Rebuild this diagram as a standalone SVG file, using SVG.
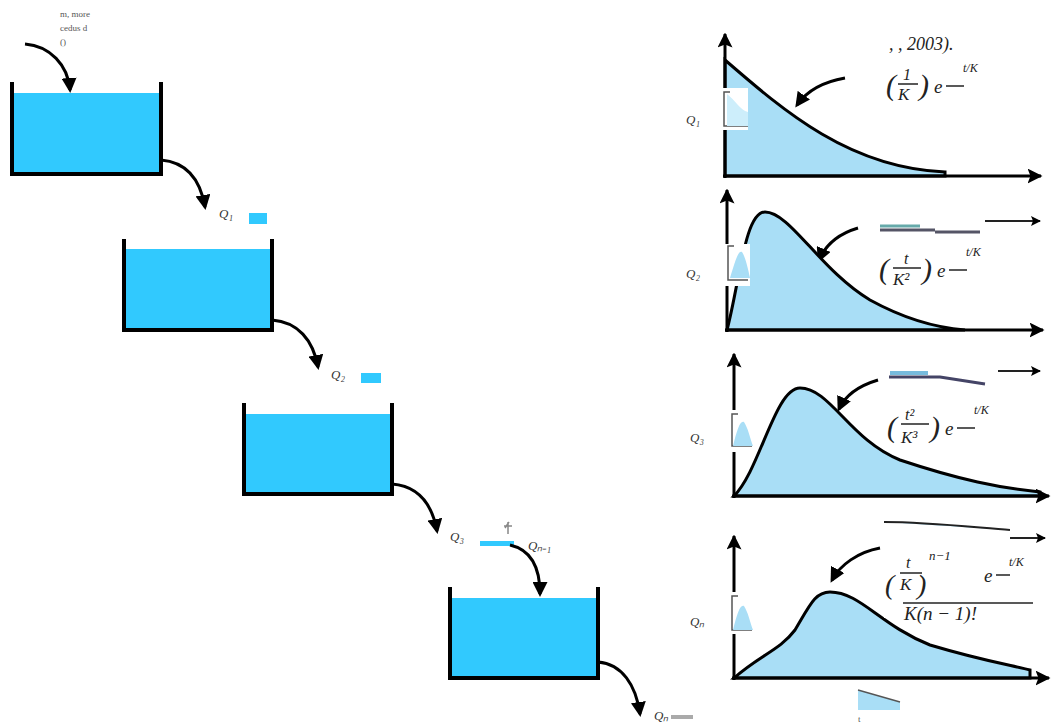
<svg xmlns="http://www.w3.org/2000/svg" width="1051" height="726" viewBox="0 0 1051 726">
<style>
.wall{stroke:#000;stroke-width:4;fill:none}
.water{fill:#31c9fe}
.flow{stroke:#000;stroke-width:3;fill:none}
.axis{stroke:#000;stroke-width:3;fill:none}
.curve{fill:#a9def6;stroke:#000;stroke-width:3}
.lbl{font-family:"Liberation Serif",serif;font-style:italic;font-size:13px;fill:#333}
.math{font-family:"Liberation Serif",serif;font-style:italic;fill:#222}
.tiny{font-family:"Liberation Serif",serif;font-size:9px;fill:#555}
</style>
<defs>
<marker id="ah" viewBox="0 0 10 10" refX="8" refY="5" markerWidth="5" markerHeight="5" orient="auto-start-reverse"><path d="M0,0 L10,5 L0,10 Z" fill="#000"/></marker>
<marker id="ax" viewBox="0 0 10 10" refX="9" refY="5" markerWidth="5" markerHeight="5" orient="auto"><path d="M0,0 L10,5 L0,10 L2,5 Z" fill="#000"/></marker>
</defs>
<rect width="1051" height="726" fill="#fff"/>

<g id="note">
<text class="tiny" x="60" y="17">m, more</text>
<text class="tiny" x="60" y="31">cedus d</text>
<text class="tiny" x="60" y="45">()</text>
</g>

<g id="tank1">
<rect class="water" x="14" y="93" width="145" height="79"/>
<path class="wall" d="M12,82 V174 H161 V82"/>
</g>
<g id="tank2">
<rect class="water" x="126" y="249" width="144" height="79"/>
<path class="wall" d="M124,239 V330 H272 V239"/>
</g>
<g id="tank3">
<rect class="water" x="246" y="414" width="144" height="78"/>
<path class="wall" d="M244,403 V494 H392 V403"/>
</g>
<g id="tank4">
<rect class="water" x="452" y="598" width="144" height="78"/>
<path class="wall" d="M450,587 V678 H598 V587"/>
</g>

<g id="labels">
<text class="lbl" x="219" y="218">Q₁</text><rect x="249" y="213" width="18" height="11" fill="#31c9fe"/>
<text class="lbl" x="331" y="379">Q₂</text><rect x="361" y="373" width="20" height="10" fill="#31c9fe"/>
<text class="lbl" x="450" y="541">Q₃</text><rect x="480" y="541" width="34" height="5" fill="#31c9fe"/>
<path d="M505,528 l4,-6 M508,522 v12 M504,526 h8" stroke="#888" stroke-width="1.5" fill="none"/>
<text class="lbl" x="528" y="550">Qₙ₋₁</text>
<text class="lbl" x="654" y="720">Qₙ</text>
<path d="M671,717 h22" stroke="#aaa" stroke-width="4"/>
</g>

<g id="connectors">
<path class="flow" marker-end="url(#ah)" d="M25,44 C50,46 68,65 70,90"/>
<path class="flow" marker-end="url(#ah)" d="M161,160 C185,162 200,178 205,207"/>
<path class="flow" marker-end="url(#ah)" d="M272,320 C298,322 313,340 318,367"/>
<path class="flow" marker-end="url(#ah)" d="M392,484 C418,486 432,504 437,531"/>
<path class="flow" marker-end="url(#ah)" d="M510,545 C532,550 540,568 540,594"/>
<path class="flow" marker-end="url(#ah)" d="M598,662 C622,664 636,685 640,714"/>
<path class="flow" marker-end="url(#ah)" d="M845,78 C822,82 806,92 797,105"/>
<path class="flow" marker-end="url(#ah)" d="M858,228 C838,234 825,246 819,260"/>
<path class="flow" marker-end="url(#ah)" d="M878,380 C858,386 845,396 839,409"/>
<path class="flow" marker-end="url(#ah)" d="M880,548 C858,552 840,565 832,580"/>
</g>

<g id="plot1">
<path class="curve" d="M725,60 C785,112 850,168 945,172 L945,176 L725,176 Z"/>
<path class="axis" marker-end="url(#ax)" d="M725,178 V34"/>
<path class="axis" marker-end="url(#ax)" d="M723,176 H1041"/>
<rect x="684" y="88" width="64" height="42" fill="#fff"/>
<text class="lbl" x="686" y="124">Q₁</text>
<path d="M730,92 h-6 v34 h24" stroke="#555" stroke-width="1.5" fill="none"/>
<path d="M727,94 C735,100 740,110 748,112 V126 H727 Z" fill="#cdeefb"/>
<text class="math" x="889" y="50" font-size="18">, , 2003).</text>
<text class="math" x="886" y="95" font-size="30">(</text>
<text class="math" x="903" y="80" font-size="16">1</text>
<path d="M898,84 h20" stroke="#222" stroke-width="1.5"/>
<text class="math" x="898" y="100" font-size="17">K</text>
<text class="math" x="919" y="95" font-size="30">)</text>
<text class="math" x="934" y="93" font-size="19">e</text>
<path d="M946,86 h18" stroke="#222" stroke-width="1.5"/>
<text class="math" x="963" y="72" font-size="12">t/K</text>
</g>

<g id="plot2">
<path class="curve" d="M727,330 C740,280 745,212 765,212 C790,212 820,270 870,300 C910,322 940,328 965,330 Z"/>
<path class="axis" marker-end="url(#ax)" d="M727,332 V190"/>
<path class="axis" marker-end="url(#ax)" d="M725,330 H1043"/>
<rect x="684" y="244" width="66" height="42" fill="#fff"/>
<text class="lbl" x="686" y="278">Q₂</text>
<path d="M734,246 h-6 v34 h20" stroke="#555" stroke-width="1.5" fill="none"/>
<path d="M730,278 C735,262 738,250 742,252 C745,256 748,268 750,278 Z" fill="#a9def6"/>
<path d="M880,230 H935 M935,232 H980" stroke="#556" stroke-width="3"/>
<path d="M880,226 h40" stroke="#6aa" stroke-width="3"/>
<path d="M985,221 H1040" stroke="#222" stroke-width="2" marker-end="url(#ax)"/>
<text class="math" x="879" y="279" font-size="30">(</text>
<text class="math" x="904" y="264" font-size="16">t</text>
<path d="M893,268 h28" stroke="#222" stroke-width="1.5"/>
<text class="math" x="893" y="285" font-size="17">K²</text>
<text class="math" x="922" y="279" font-size="30">)</text>
<text class="math" x="937" y="277" font-size="19">e</text>
<path d="M949,270 h18" stroke="#222" stroke-width="1.5"/>
<text class="math" x="966" y="256" font-size="12">t/K</text>
</g>

<g id="plot3">
<path class="curve" d="M734,496 C760,470 775,388 800,388 C830,388 850,440 900,460 C960,480 1000,488 1040,492 L1040,496 Z"/>
<path class="axis" marker-end="url(#ax)" d="M734,498 V354"/>
<path class="axis" marker-end="url(#ax)" d="M732,496 H1049"/>
<rect x="688" y="410" width="66" height="42" fill="#fff"/>
<text class="lbl" x="690" y="442">Q₃</text>
<path d="M738,414 h-6 v32 h20" stroke="#555" stroke-width="1.5" fill="none"/>
<path d="M733,446 C737,430 740,420 744,422 C748,428 750,438 753,446 Z" fill="#a9def6"/>
<path d="M889,377 H940 L985,384" stroke="#446" stroke-width="3" fill="none"/>
<path d="M890,373 h38" stroke="#7bd" stroke-width="4"/>
<path d="M998,371 H1040" stroke="#222" stroke-width="2" marker-end="url(#ax)"/>
<text class="math" x="887" y="437" font-size="30">(</text>
<text class="math" x="905" y="420" font-size="16">t²</text>
<path d="M901,424 h28" stroke="#222" stroke-width="1.5"/>
<text class="math" x="901" y="443" font-size="17">K³</text>
<text class="math" x="930" y="437" font-size="30">)</text>
<text class="math" x="945" y="435" font-size="19">e</text>
<path d="M957,428 h18" stroke="#222" stroke-width="1.5"/>
<text class="math" x="974" y="414" font-size="12">t/K</text>
</g>

<g id="plot4">
<path class="curve" d="M734,678 C760,655 780,650 795,630 C810,605 815,592 830,592 C860,592 880,625 930,645 C980,660 1010,665 1030,670 L1030,678 Z"/>
<path class="axis" marker-end="url(#ax)" d="M734,680 V536"/>
<path class="axis" marker-end="url(#ax)" d="M732,678 H1049"/>
<rect x="688" y="592" width="66" height="42" fill="#fff"/>
<text class="lbl" x="690" y="626">Qₙ</text>
<path d="M738,596 h-6 v34 h20" stroke="#555" stroke-width="1.5" fill="none"/>
<path d="M733,630 C737,614 740,604 744,606 C748,612 750,622 753,630 Z" fill="#a9def6"/>
<rect x="884" y="518" width="150" height="100" fill="#fff"/>
<path d="M884,522 C930,522 980,528 1010,530" stroke="#222" stroke-width="2" fill="#a9def6"/>
<path d="M1010,538 H1045" stroke="#222" stroke-width="2" marker-end="url(#ax)"/>
<text class="math" x="885" y="594" font-size="28">(</text>
<text class="math" x="906" y="568" font-size="16">t</text>
<path d="M900,573 h22" stroke="#222" stroke-width="1.5"/>
<text class="math" x="900" y="590" font-size="17">K</text>
<text class="math" x="917" y="594" font-size="28">)</text>
<text class="math" x="929" y="560" font-size="13">n−1</text>
<text class="math" x="984" y="582" font-size="19">e</text>
<path d="M996,575 h14" stroke="#222" stroke-width="1.5"/>
<text class="math" x="1009" y="566" font-size="12">t/K</text>
<path d="M903,603 h130" stroke="#222" stroke-width="1.5"/>
<text class="math" x="904" y="620" font-size="19">K(n − 1)!</text>
<rect x="856" y="686" width="48" height="26" fill="#fff"/>
<path d="M858,690 L900,702 V710 H858 Z" fill="#a9def6"/>
<path d="M858,690 L900,702" stroke="#555" stroke-width="1.5"/>
<text class="tiny" x="858" y="722">t</text>
</g>
</svg>
